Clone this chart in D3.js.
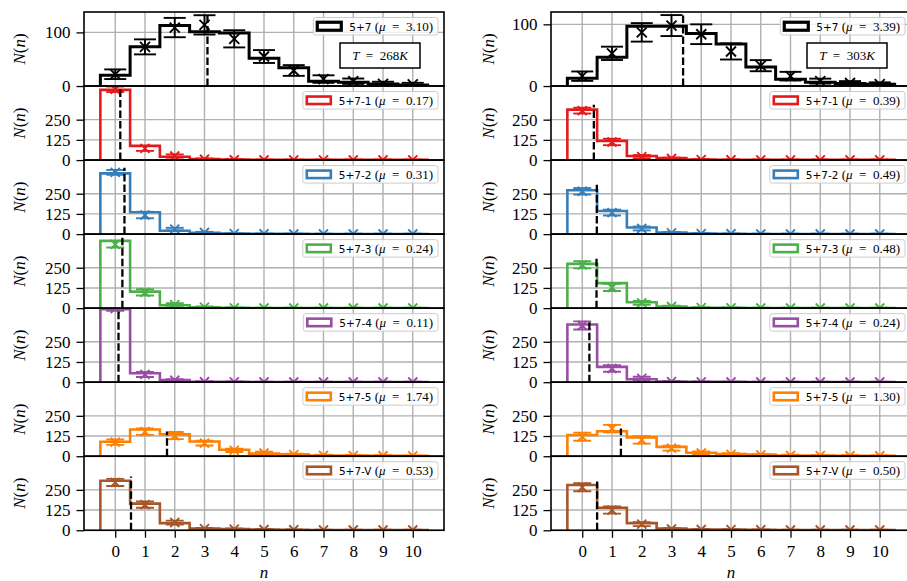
<!DOCTYPE html>
<html>
<head>
<meta charset="utf-8">
<script src="https://cdn.jsdelivr.net/npm/d3@7"></script>
<style>
  body { margin: 0; background: #ffffff; }
  svg { display: block; }
</style>
</head>
<body>
<svg id="chart" width="907" height="581"></svg>
<script>
// ---- data ---------------------------------------------------------------
const nBins = [0, 1, 2, 3, 4, 5, 6, 7, 8, 9, 10];
const seriesNames = ["5+7", "5+7-1", "5+7-2", "5+7-3", "5+7-4", "5+7-5", "5+7-V"];
const temperatures = ["268", "303"];

// mean occupancy per series (dashed line position)
const mu268 = [3.10, 0.17, 0.31, 0.24, 0.11, 1.74, 0.53];
const mu303 = [3.39, 0.39, 0.49, 0.48, 0.24, 1.30, 0.50];
// height reached by the dashed mean line
const muTop268 = [132, 446, 411, 440, 458, 152, 333];
const muTop303 = [115, 342, 306, 315, 383, 171, 302];

// histogram counts N(n), T = 268 K
const hist268 = [
  [20, 73, 113, 101, 99, 52, 34, 9, 7, 4, 2],
  [434, 88, 21, 6, 3, 2, 1, 1, 1, 1, 1],
  [376, 135, 21, 8, 3, 2, 2, 1, 1, 1, 1],
  [416, 102, 18, 6, 2, 1, 1, 1, 1, 1, 1],
  [452, 55, 13, 3, 2, 1, 1, 1, 1, 1, 1],
  [90, 165, 135, 91, 40, 16, 12, 5, 4, 3, 3],
  [306, 165, 44, 10, 8, 5, 3, 2, 2, 2, 2]
];
// averaged counts and their spread, T = 268 K
const mean268 = [
  [22, 73, 109, 114, 88, 55, 29, 13, 9, 4, 3],
  [438, 72, 25, 5, 2, 1, 1, 1, 1, 1, 1],
  [382, 118, 31, 10, 3, 2, 1, 1, 1, 1, 1],
  [395, 98, 22, 6, 2, 1, 1, 1, 1, 1, 1],
  [456, 48, 12, 3, 2, 1, 1, 1, 1, 1, 1],
  [87, 152, 128, 81, 36, 20, 10, 5, 4, 3, 2],
  [296, 159, 48, 10, 7, 5, 3, 2, 2, 2, 2]
];
const err268 = [
  [9, 14, 18, 18, 16, 12, 10, 7, 5, 4, 3],
  [17, 15, 10, 5, 3, 2, 2, 2, 2, 2, 2],
  [15, 20, 8, 4, 2, 2, 2, 2, 2, 2, 2],
  [20, 20, 8, 4, 2, 2, 2, 2, 2, 2, 2],
  [15, 16, 6, 3, 2, 2, 2, 2, 2, 2, 2],
  [17, 20, 22, 15, 10, 8, 6, 4, 3, 3, 2],
  [22, 20, 12, 5, 4, 3, 2, 2, 2, 2, 2]
];

// histogram counts N(n), T = 303 K
const hist303 = [
  [12.5, 46.5, 97, 97, 85, 68, 31, 11, 6, 4, 3],
  [312, 119, 25, 12, 3, 2, 2, 1, 1, 1, 1],
  [271, 143, 41, 10, 3, 2, 1, 1, 1, 1, 1],
  [274, 155, 37, 10, 3, 2, 1, 1, 1, 1, 1],
  [357, 95, 18, 4, 3, 2, 1, 1, 1, 1, 1],
  [131, 155, 117, 58, 22, 14, 10, 5, 4, 3, 3],
  [280, 139, 44, 10, 5, 4, 3, 2, 2, 2, 2]
];
const mean303 = [
  [16, 53, 87, 98, 84, 56, 33, 16, 8, 5, 3],
  [306, 112, 21, 10, 3, 2, 1, 1, 1, 1, 1],
  [265, 133, 35, 8, 3, 2, 1, 1, 1, 1, 1],
  [268, 128, 33, 10, 3, 2, 1, 1, 1, 1, 1],
  [351, 85, 24, 4, 2, 1, 1, 1, 1, 1, 1],
  [121, 171, 101, 50, 20, 12, 8, 5, 4, 3, 3],
  [266, 125, 38, 8, 5, 4, 3, 2, 2, 2, 2]
];
const err303 = [
  [7.6, 10.8, 15, 17, 16, 13, 9, 7, 4, 3, 3],
  [18, 20, 10, 5, 3, 2, 2, 2, 2, 2, 2],
  [20, 18, 12, 5, 3, 2, 2, 2, 2, 2, 2],
  [22, 22, 12, 5, 3, 2, 2, 2, 2, 2, 2],
  [25, 20, 10, 4, 3, 2, 2, 2, 2, 2, 2],
  [25, 23, 23, 15, 10, 7, 5, 4, 3, 3, 2],
  [25, 22, 12, 5, 3, 3, 2, 2, 2, 2, 2]
];

// y-axis ticks and limits
const yTicksTotal = [0, 100];
const yTicksSite = [0, 125, 250];
const yMaxTotal = [138, 120];
const yMaxSite = 458;
const xDomain = [-1.05, 11.05];

// ---- styling ------------------------------------------------------------
const seriesColors = ["#000000", "#e41a1c", "#377eb8", "#4daf4a", "#984ea3", "#ff7f00", "#a65628"];
const serif = "'Liberation Serif', 'DejaVu Serif', serif";
const sans = "'DejaVu Sans', sans-serif";
const gridColor = "#b0b0b0";

const columns = [
  { x0: 84, x1: 444, mu: mu268, muTop: muTop268, hist: hist268, mean: mean268, err: err268, T: temperatures[0], yMaxTop: yMaxTotal[0] },
  { x0: 551, x1: 911, mu: mu303, muTop: muTop303, hist: hist303, mean: mean303, err: err303, T: temperatures[1], yMaxTop: yMaxTotal[1] }
];
const plotTop = 12;
const panelH = 74.04;

const svg = d3.select("#chart");
svg.append("rect").attr("width", 907).attr("height", 581).attr("fill", "#ffffff");
const defs = svg.append("defs");

function stepPoints(h) {
  const pts = [[nBins[0] - 0.5, 0]];
  h.forEach((v, i) => {
    pts.push([nBins[i] - 0.5, v]);
    pts.push([nBins[i] + 0.5, v]);
  });
  pts.push([nBins[nBins.length - 1] + 0.5, 0]);
  return pts;
}

function yLabel(g, x, y) {
  const t = g.append("text")
    .attr("transform", `translate(${x},${y}) rotate(-90)`)
    .attr("text-anchor", "middle")
    .attr("font-family", serif)
    .attr("font-size", 17);
  t.append("tspan").attr("font-style", "italic").text("N");
  t.append("tspan").text("(");
  t.append("tspan").attr("font-style", "italic").text("n");
  t.append("tspan").text(")");
}

columns.forEach((col, c) => {
  const x = d3.scaleLinear().domain(xDomain).range([col.x0, col.x1]);

  seriesNames.forEach((name, i) => {
    const y0 = plotTop + i * panelH;
    const y1 = y0 + panelH;
    const isTotal = i === 0;
    const yMax = isTotal ? col.yMaxTop : yMaxSite;
    const ticks = isTotal ? yTicksTotal : yTicksSite;
    const y = d3.scaleLinear().domain([0, yMax]).range([y1, y0]);
    const color = seriesColors[i];
    const g = svg.append("g");

    const clipId = `clip-${c}-${i}`;
    defs.append("clipPath").attr("id", clipId)
      .append("rect").attr("x", col.x0).attr("y", y0)
      .attr("width", col.x1 - col.x0).attr("height", y1 - y0);

    // grid
    const grid = g.append("g").attr("clip-path", `url(#${clipId})`);
    grid.selectAll("line.gx").data(nBins).join("line")
      .attr("x1", d => x(d)).attr("x2", d => x(d))
      .attr("y1", y0).attr("y2", y1)
      .attr("stroke", gridColor).attr("stroke-width", 1.4);
    grid.selectAll("line.gy").data(ticks).join("line")
      .attr("x1", col.x0).attr("x2", col.x1)
      .attr("y1", d => y(d)).attr("y2", d => y(d))
      .attr("stroke", gridColor).attr("stroke-width", 1.4);

    const plot = g.append("g").attr("clip-path", `url(#${clipId})`);

    // step histogram outline
    const line = d3.line().x(d => x(d[0])).y(d => y(d[1]));
    plot.append("path")
      .attr("d", line(stepPoints(col.hist[i])))
      .attr("fill", "none")
      .attr("stroke", color)
      .attr("stroke-width", isTotal ? 3 : 2.6)
      .attr("stroke-linejoin", "miter");

    // error bars with x markers
    const capHalf = isTotal ? 11 : 9;
    const mk = isTotal ? 5 : 4.5;
    const eb = plot.selectAll("g.eb").data(nBins).join("g");
    eb.append("line")
      .attr("x1", d => x(d)).attr("x2", d => x(d))
      .attr("y1", (d, k) => y(col.mean[i][k] - col.err[i][k]))
      .attr("y2", (d, k) => y(col.mean[i][k] + col.err[i][k]))
      .attr("stroke", color).attr("stroke-width", 1.9);
    [-1, 1].forEach(s => {
      eb.append("line")
        .attr("x1", d => x(d) - capHalf).attr("x2", d => x(d) + capHalf)
        .attr("y1", (d, k) => y(col.mean[i][k] + s * col.err[i][k]))
        .attr("y2", (d, k) => y(col.mean[i][k] + s * col.err[i][k]))
        .attr("stroke", color).attr("stroke-width", 1.9);
    });
    eb.append("path")
      .attr("d", (d, k) => {
        const cx = x(d), cy = y(col.mean[i][k]);
        return `M${cx - mk},${cy - mk}L${cx + mk},${cy + mk}M${cx - mk},${cy + mk}L${cx + mk},${cy - mk}`;
      })
      .attr("stroke", color).attr("stroke-width", 1.9).attr("fill", "none");

    // dashed mean line
    plot.append("line")
      .attr("x1", x(col.mu[i])).attr("x2", x(col.mu[i]))
      .attr("y1", y(0)).attr("y2", y(col.muTop[i]))
      .attr("stroke", "#000").attr("stroke-width", 2.3)
      .attr("stroke-dasharray", "7.5,3");

    // y axis
    const ya = g.append("g").attr("transform", `translate(${col.x0},0)`)
      .call(d3.axisLeft(y).tickValues(ticks).tickSize(7.5).tickPadding(6).tickFormat(d3.format("d")));
    ya.select(".domain").remove();
    ya.selectAll("line").attr("stroke", "#000").attr("stroke-width", 1.3);
    ya.selectAll("text").attr("font-family", serif).attr("font-size", 17).attr("fill", "#000");

    // bottom panel x axis
    if (i === seriesNames.length - 1) {
      const xa = g.append("g").attr("transform", `translate(0,${y1})`)
        .call(d3.axisBottom(x).tickValues(nBins).tickSize(7.5).tickPadding(7));
      xa.select(".domain").remove();
      xa.selectAll("line").attr("stroke", "#000").attr("stroke-width", 1.3);
      xa.selectAll("text").attr("font-family", serif).attr("font-size", 17).attr("fill", "#000");
      svg.append("text")
        .attr("x", (col.x0 + col.x1) / 2).attr("y", 578)
        .attr("text-anchor", "middle")
        .attr("font-family", serif).attr("font-size", 17)
        .attr("font-style", "italic").text("n");
    }

    // frame
    g.append("rect")
      .attr("x", col.x0).attr("y", y0)
      .attr("width", col.x1 - col.x0).attr("height", y1 - y0)
      .attr("fill", "none").attr("stroke", "#000").attr("stroke-width", 1.6);

    yLabel(svg, c === 0 ? 24.5 : 493.5, (y0 + y1) / 2);

    // legend
    const lg = g.append("g");
    const box = lg.append("rect")
      .attr("rx", 2.5).attr("ry", 2.5)
      .attr("fill", "#ffffff").attr("fill-opacity", 0.8)
      .attr("stroke", "#cccccc").attr("stroke-width", 1);
    const hw = 24, hh = isTotal ? 8 : 7.5;
    const handle = lg.append("rect")
      .attr("width", hw).attr("height", hh)
      .attr("fill", "#ffffff")
      .attr("stroke", color).attr("stroke-width", isTotal ? 3.2 : 2.6);
    const txt = lg.append("text").attr("font-family", serif).attr("font-size", 13);
    txt.append("tspan").attr("font-family", sans).attr("font-size", 10.5).text(name);
    txt.append("tspan").text(" (");
    txt.append("tspan").attr("font-style", "italic").text("\u03bc");
    txt.append("tspan").text(`\u2002=\u2002${col.mu[i].toFixed(2)})`);
    const tw = txt.node().getComputedTextLength();
    const bh = 17.5;
    const bw = 4 + hw + 8 + tw + 5;
    const bx = col.x1 - 6 - bw;
    const by = y0 + 5.5;
    box.attr("x", bx).attr("y", by).attr("width", bw).attr("height", bh);
    handle.attr("x", bx + 4).attr("y", by + bh / 2 - hh / 2);
    txt.attr("x", bx + 4 + hw + 8).attr("y", by + bh / 2 + 4.5);

    // temperature box in the top panels
    if (isTotal) {
      const tb = svg.append("g");
      const tbw = 80, tbh = 25;
      const tx = col.x1 - 24 - tbw, ty = 43;
      tb.append("rect").attr("x", tx).attr("y", ty).attr("width", tbw).attr("height", tbh)
        .attr("fill", "#ffffff").attr("stroke", "#000").attr("stroke-width", 1.5);
      const tt = tb.append("text").attr("x", tx + tbw / 2).attr("y", ty + tbh / 2 + 4.5)
        .attr("text-anchor", "middle").attr("font-family", serif).attr("font-size", 13);
      tt.append("tspan").attr("font-style", "italic").text("T");
      tt.append("tspan").text(`\u2002=\u2002${col.T}`);
      tt.append("tspan").attr("font-style", "italic").text("K");
    }
  });
});
</script>
</body>
</html>
